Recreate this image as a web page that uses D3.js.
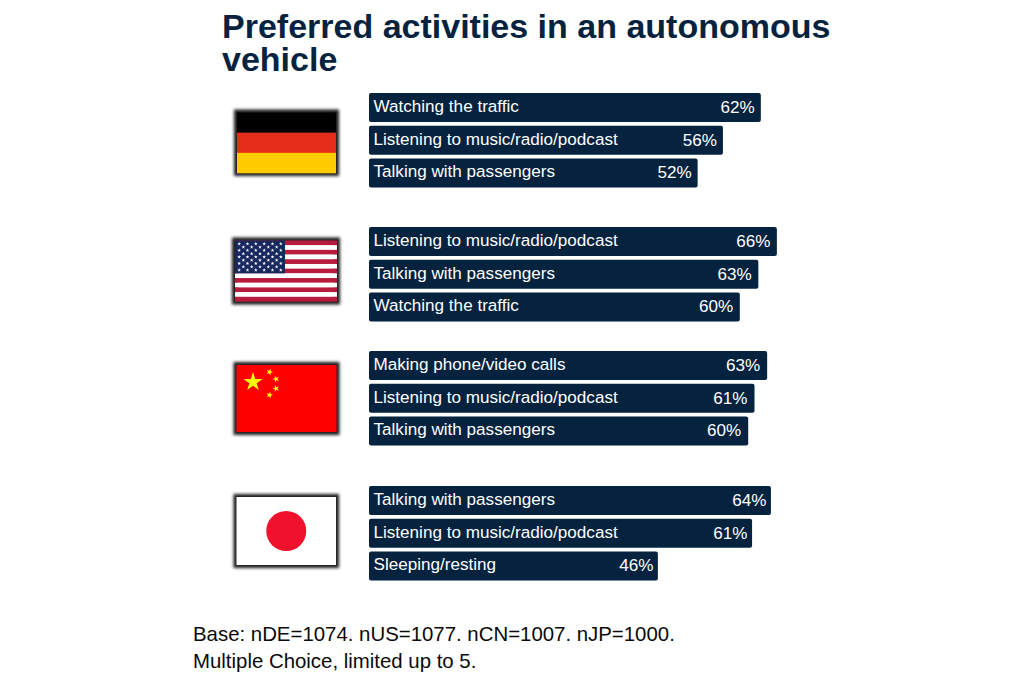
<!DOCTYPE html>
<html><head><meta charset="utf-8">
<script src="https://cdn.jsdelivr.net/npm/d3@7"></script>
<style>html,body{margin:0;background:#fff}svg{display:block}text{font-family:"Liberation Sans",Arial,sans-serif}</style>
</head><body><svg id="c" width="1024" height="682"></svg>
<script>
const titleLines = ["Preferred activities in an autonomous", "vehicle"];
const footLines = ["Base: nDE=1074. nUS=1077. nCN=1007. nJP=1000.", "Multiple Choice, limited up to 5."];
const countries = ["DE", "US", "CN", "JP"];
const deLabels = ["Watching the traffic", "Listening to music/radio/podcast", "Talking with passengers"];
const deValues = [62, 56, 52];
const usLabels = ["Listening to music/radio/podcast", "Talking with passengers", "Watching the traffic"];
const usValues = [66, 63, 60];
const cnLabels = ["Making phone/video calls", "Listening to music/radio/podcast", "Talking with passengers"];
const cnValues = [63, 61, 60];
const jpLabels = ["Talking with passengers", "Listening to music/radio/podcast", "Sleeping/resting"];
const jpValues = [64, 61, 46];

const labels = [deLabels, usLabels, cnLabels, jpLabels];
const values = [deValues, usValues, cnValues, jpValues];

// layout of each country panel (the source scales each panel slightly differently)
const panelTop = [93, 227, 351, 486];
const panelFull = [632, 618, 632, 628];
const valueInset = [6, 6.5, 7, 4.5];
const flagBox = [[237,112.5,99,60.5],[235,240.5,102,61],[236.5,365,100,67],[236.5,497,99.5,68]];
const NAVY = "#05233f";

const svg = d3.select("#c");
const defs = svg.append("defs");
defs.append("filter").attr("id","sh").attr("x","-15%").attr("y","-20%").attr("width","130%").attr("height","140%")
  .append("feGaussianBlur").attr("stdDeviation",1.4);

svg.append("g").selectAll("text").data(titleLines).join("text")
  .attr("x",222).attr("y",(d,i)=>38+i*33)
  .attr("font-size",34).attr("font-weight",700).attr("fill",NAVY).text(d=>d);

countries.forEach((c,k)=>{
  const x = d3.scaleLinear().domain([0,100]).range([369,369+panelFull[k]]);
  const y = d3.scaleBand().domain(d3.range(3)).range([panelTop[k],panelTop[k]+94.5]).paddingInner(0.11).paddingOuter(0);
  const g = svg.append("g").attr("class","panel-"+c);
  const row = g.selectAll("g").data(values[k]).join("g");
  row.append("rect").attr("x",x(0)).attr("y",(d,i)=>y(i))
    .attr("width",d=>x(d)-x(0)).attr("height",y.bandwidth()).attr("rx",2).attr("fill",NAVY);
  row.append("text").attr("x",373.5).attr("y",(d,i)=>y(i)+y.bandwidth()/2+4.5)
    .attr("font-size",17.1).attr("fill","#fff").text((d,i)=>labels[k][i]);
  row.append("text").attr("x",d=>x(d)-valueInset[k]).attr("y",(d,i)=>y(i)+y.bandwidth()/2+5.5)
    .attr("text-anchor","end").attr("font-size",17.1).attr("fill","#fff").text(d=>d+"%");
  drawFlag(c, flagBox[k]);
});

function star(cx,cy,r,rot){
  const pts=[];
  for(let i=0;i<10;i++){
    const a=-Math.PI/2+rot+i*Math.PI/5, q=i%2?r*0.382:r;
    pts.push([cx+q*Math.cos(a),cy+q*Math.sin(a)]);
  }
  return "M"+pts.join("L")+"Z";
}
function drawFlag(c,[x0,y0,w,h]){
  const g=svg.append("g").attr("class","flag-"+c);
  g.append("rect").attr("x",x0).attr("y",y0).attr("width",w).attr("height",h)
    .attr("fill","none").attr("stroke","#1a1a1a").attr("stroke-width",6).attr("filter","url(#sh)");
  if(c==="DE"){
    ["#000","#e52d1b","#ffcc00"].forEach((f,i)=>g.append("rect").attr("x",x0).attr("y",y0+i*h/3).attr("width",w).attr("height",h/3+.3).attr("fill",f));
  } else if(c==="US"){
    d3.range(13).forEach(i=>g.append("rect").attr("x",x0).attr("y",y0+i*h/13).attr("width",w).attr("height",h/13+.1).attr("fill",i%2?"#fff":"#b71c3c"));
    const cw=w*0.49,ch=h*7/13;
    g.append("rect").attr("x",x0).attr("y",y0).attr("width",cw).attr("height",ch).attr("fill","#18285f");
    d3.range(9).forEach(r=>{
      const n=r%2?5:6;
      d3.range(n).forEach(j=>g.append("path").attr("fill","#fff")
        .attr("d",star(x0+cw*(r%2?2:1)/12+j*cw/6,y0+ch*(r+1)/10,2,0)));
    });
  } else if(c==="CN"){
    g.append("rect").attr("x",x0).attr("y",y0).attr("width",w).attr("height",h).attr("fill","#fe0000");
    g.append("path").attr("fill","#ffff00").attr("d",star(x0+16.5,y0+17,10,0));
    [[33,7,.4],[39.5,14,.9],[39.5,23.5,-.3],[33,30,.2]].forEach(s=>g.append("path").attr("fill","#ffff00").attr("d",star(x0+s[0],y0+s[1],3.6,s[2])));
  } else {
    g.append("rect").attr("x",x0).attr("y",y0).attr("width",w).attr("height",h).attr("fill","#fff");
    g.append("circle").attr("cx",x0+w/2).attr("cy",y0+h/2).attr("r",20).attr("fill","#f0122d");
  }
}

svg.append("g").selectAll("text").data(footLines).join("text")
  .attr("x",193).attr("y",(d,i)=>641+i*26.5)
  .attr("font-size",20.4).attr("fill","#0a0a0a").text(d=>d);
</script></body></html>
